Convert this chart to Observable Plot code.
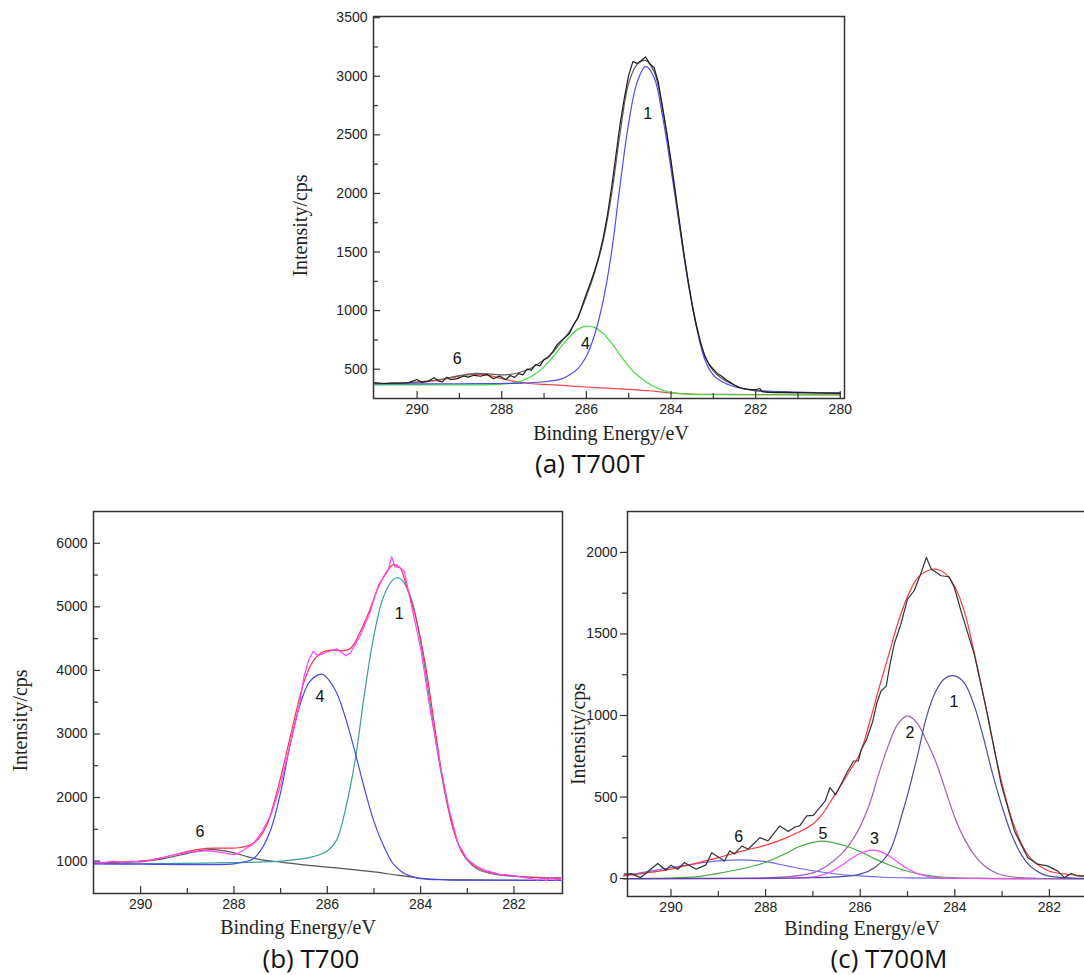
<!DOCTYPE html>
<html><head><meta charset="utf-8">
<script src="https://cdn.jsdelivr.net/npm/d3@7"></script>
<script src="https://cdn.jsdelivr.net/npm/@observablehq/plot@0.6"></script>
<style>
html,body{margin:0;padding:0;background:#fff;overflow:hidden;}
#root{position:relative;width:1084px;height:975px;overflow:hidden;background:#fff;}
.panel{position:absolute;overflow:visible;}
.panel svg{max-width:none !important;}
.title{position:absolute;font-family:"Open Sans";font-size:26px;line-height:1;color:#111;transform:translate(-50%,-50%);white-space:nowrap;}
</style></head><body><div id="root"></div>
<script>
// ---------- Panel (a) T700T ----------
const aRaw = [[291.0,385],[290.8,378],[290.6,382],[290.4,380],[290.2,386],[290.0,412],[289.9,388],[289.75,396],[289.6,428],[289.5,400],[289.4,392],[289.3,432],[289.2,410],[289.05,420],[288.9,442],[288.8,432],[288.65,448],[288.5,440],[288.35,456],[288.2,418],[288.05,442],[287.9,410],[287.8,446],[287.7,430],[287.6,462],[287.5,452],[287.4,500],[287.3,492],[287.2,540],[287.1,528],[287.0,582],[286.9,600],[286.8,645],[286.7,705],[286.6,742],[286.5,772],[286.4,805],[286.3,880],[286.2,935],[286.1,1040],[286.0,1145],[285.9,1240],[285.8,1345],[285.7,1470],[285.6,1625],[285.5,1820],[285.4,2060],[285.3,2330],[285.2,2600],[285.1,2820],[285.0,3010],[284.9,3125],[284.8,3110],[284.7,3135],[284.6,3165],[284.5,3105],[284.4,3075],[284.3,2950],[284.2,2740],[284.1,2520],[284.0,2280],[283.9,2020],[283.8,1760],[283.7,1500],[283.6,1265],[283.5,1050],[283.4,870],[283.3,720],[283.2,612],[283.1,540],[283.0,500],[282.9,462],[282.8,440],[282.7,410],[282.6,388],[282.5,365],[282.4,345],[282.3,335],[282.2,330],[282.1,326],[282.0,325],[281.9,335],[281.85,308],[281.7,302],[281.5,300],[281.3,302],[281.0,300],[280.5,297],[280.0,294]];
const aEnv = [[291.0,378],[290.5,381],[290.0,390],[289.5,410],[289.0,445],[288.6,465],[288.2,456],[287.9,452],[287.6,470],[287.3,510],[287.0,580],[286.8,640],[286.6,730],[286.4,820],[286.2,945],[286.0,1120],[285.8,1330],[285.6,1600],[285.4,2000],[285.2,2520],[285.0,2940],[284.8,3100],[284.6,3135],[284.4,3040],[284.2,2720],[284.0,2260],[283.8,1740],[283.6,1260],[283.4,880],[283.2,615],[283.0,485],[282.8,420],[282.6,380],[282.3,335],[282.0,315],[281.5,305],[281.0,300],[280.0,295]];
const aPeak1 = [[291.0,375],[290.0,375],[289.0,376],[288.0,378],[287.5,382],[287.0,393],[286.6,415],[286.4,450],[286.2,505],[286.0,610],[285.8,800],[285.6,1090],[285.4,1510],[285.2,2080],[285.0,2600],[284.8,2950],[284.6,3085],[284.4,2990],[284.2,2660],[284.0,2210],[283.8,1720],[283.6,1250],[283.4,864],[283.2,580],[283.0,450],[282.8,395],[282.5,350],[282.0,320],[281.0,305],[280.0,298]];
const aPeak4 = [[291.0,366],[290.0,366],[289.0,366],[288.4,367],[288.0,372],[287.8,380],[287.6,392],[287.4,420],[287.2,462],[287.0,520],[286.8,600],[286.6,690],[286.4,775],[286.2,840],[286.0,868],[285.8,855],[285.6,805],[285.4,720],[285.2,620],[285.0,525],[284.8,450],[284.6,395],[284.4,352],[284.2,322],[284.0,300],[283.6,288],[283.0,283],[282.0,282],[280.0,280]];
const aPeak6 = [[291.0,376],[290.5,380],[290.0,388],[289.6,400],[289.2,425],[288.9,447],[288.6,456],[288.3,447],[288.0,420],[287.7,396],[287.4,380],[287.0,370],[286.5,360],[286.0,348],[285.5,338],[285.0,328],[284.5,316],[284.0,298],[283.5,288],[283.0,285],[282.0,283],[280.0,281]];
const aLabels = [{t:"6",E:289.05,v:585},{t:"4",E:286.02,v:716},{t:"1",E:284.55,v:2682}];
const aXMajor = [290,288,286,284,282,280];
const aXMinor = [289,287,285,283,281];
const aYMajor = [500,1000,1500,2000,2500,3000,3500];
const aYMinor = [750,1250,1750,2250,2750,3250];

// ---------- Panel (b) T700 ----------
const bRaw = [[291.0,980],[290.8,970],[290.6,1000],[290.5,990],[290.4,975],[290.2,1000],[290.0,985],[289.8,1010],[289.6,1040],[289.4,1080],[289.2,1110],[289.0,1140],[288.8,1150],[288.6,1165],[288.4,1150],[288.2,1130],[288.0,1100],[287.9,1130],[287.8,1170],[287.6,1260],[287.4,1460],[287.2,1740],[287.0,2200],[286.8,2820],[286.6,3450],[286.5,3900],[286.4,4160],[286.3,4300],[286.2,4230],[286.0,4290],[285.8,4340],[285.6,4230],[285.5,4280],[285.3,4540],[285.1,4880],[284.9,5350],[284.8,5460],[284.7,5560],[284.62,5790],[284.55,5630],[284.45,5620],[284.35,5560],[284.2,5030],[284.0,4350],[283.8,3400],[283.6,2580],[283.4,1850],[283.2,1280],[283.0,1030],[282.8,920],[282.6,850],[282.3,790],[282.0,770],[281.8,745],[281.6,720],[281.5,700],[281.4,730],[281.3,690],[281.2,745],[281.1,700],[281.0,715]];
const bEnv = [[291.0,975],[290.5,985],[290.0,1000],[289.5,1060],[289.0,1150],[288.6,1200],[288.2,1205],[287.9,1210],[287.7,1240],[287.5,1330],[287.3,1560],[287.1,2030],[286.9,2620],[286.7,3250],[286.5,3820],[286.3,4150],[286.1,4290],[285.9,4320],[285.7,4310],[285.5,4350],[285.3,4600],[285.1,4930],[284.9,5320],[284.7,5580],[284.6,5660],[284.45,5620],[284.3,5320],[284.1,4820],[283.9,4100],[283.7,3120],[283.5,2180],[283.3,1500],[283.1,1120],[282.9,950],[282.7,860],[282.4,800],[282.0,765],[281.5,740],[281.0,727]];
const bPeak4 = [[291.0,955],[290.0,950],[289.0,945],[288.5,945],[288.0,955],[287.8,985],[287.6,1030],[287.4,1200],[287.2,1520],[287.0,2080],[286.8,2820],[286.6,3420],[286.4,3800],[286.2,3930],[286.1,3940],[286.0,3880],[285.8,3650],[285.6,3230],[285.4,2700],[285.2,2130],[285.0,1620],[284.8,1250],[284.6,970],[284.4,830],[284.2,760],[284.0,725],[283.5,705],[283.0,700],[282.0,698],[281.0,695]];
const bPeak1 = [[291.0,960],[290.0,962],[289.0,965],[288.0,975],[287.5,985],[287.0,1000],[286.6,1030],[286.3,1070],[286.0,1160],[285.8,1330],[285.6,1850],[285.4,2600],[285.2,3650],[285.0,4550],[284.8,5150],[284.6,5420],[284.5,5460],[284.4,5420],[284.2,5130],[284.0,4450],[283.8,3500],[283.6,2550],[283.4,1800],[283.2,1280],[283.0,1010],[282.8,880],[282.6,820],[282.3,780],[282.0,760],[281.5,745],[281.0,738]];
const bPeak6 = [[291.0,975],[290.5,980],[290.0,995],[289.5,1040],[289.0,1120],[288.7,1165],[288.45,1180],[288.2,1160],[288.0,1130],[287.7,1065],[287.4,1020],[287.0,985],[286.5,940],[286.0,905],[285.5,870],[285.0,830],[284.5,780],[284.0,730],[283.5,710],[283.0,705],[282.0,700],[281.0,695]];
const bLabels = [{t:"6",E:288.73,v:1462},{t:"4",E:286.16,v:3581},{t:"1",E:284.46,v:4893}];
const bXMajor = [290,288,286,284,282];
const bXMinor = [289,287,285,283];
const bYMajor = [1000,2000,3000,4000,5000,6000];
const bYMinor = [1500,2500,3500,4500,5500];

// ---------- Panel (c) T700M ----------
const cRaw = [[290.99,27],[290.85,30],[290.64,6],[290.28,92],[290.11,51],[290.0,82],[289.86,57],[289.72,98],[289.47,57],[289.26,84],[289.14,159],[288.87,108],[288.76,170],[288.66,150],[288.5,200],[288.37,180],[288.12,251],[287.95,231],[287.7,323],[287.52,288],[287.38,316],[287.28,323],[287.13,384],[286.99,388],[286.74,476],[286.64,558],[286.52,513],[286.28,650],[286.14,721],[286.04,722],[285.98,790],[285.87,850],[285.74,960],[285.65,1075],[285.56,1150],[285.45,1180],[285.38,1300],[285.28,1440],[285.14,1560],[285.0,1714],[284.86,1765],[284.71,1877],[284.6,1969],[284.5,1898],[284.29,1857],[284.12,1851],[284.01,1785],[283.87,1642],[283.59,1376],[283.31,1008],[283.02,579],[282.74,292],[282.46,129],[282.25,88],[282.04,78],[281.83,47],[281.68,6],[281.54,31],[281.4,16],[281.2,14],[281.0,12]];
const cEnv = [[291.0,16],[290.5,36],[290.0,58],[289.5,92],[289.0,128],[288.5,168],[288.0,205],[287.6,245],[287.3,285],[287.0,335],[286.8,395],[286.6,485],[286.4,575],[286.2,670],[286.0,770],[285.8,960],[285.6,1170],[285.4,1370],[285.2,1570],[285.0,1730],[284.8,1840],[284.6,1885],[284.4,1898],[284.2,1870],[284.0,1790],[283.8,1640],[283.6,1400],[283.4,1130],[283.2,840],[283.0,580],[282.8,370],[282.6,220],[282.4,125],[282.2,75],[282.0,45],[281.6,25],[281.2,16],[281.0,14]];
const cPeak1 = [[291.0,0],[288.0,2],[287.0,5],[286.5,10],[286.0,27],[285.7,67],[285.4,155],[285.1,410],[284.8,740],[284.6,990],[284.4,1150],[284.2,1230],[284.0,1243],[283.8,1200],[283.6,1070],[283.4,870],[283.2,640],[283.0,440],[282.8,270],[282.6,150],[282.4,75],[282.2,35],[282.0,15],[281.5,3],[281.0,0]];
const cPeak2 = [[291.0,0],[288.0,5],[287.5,12],[287.0,35],[286.8,60],[286.6,100],[286.4,150],[286.2,220],[286.0,320],[285.8,460],[285.6,650],[285.4,820],[285.2,950],[285.0,998],[284.8,955],[284.6,845],[284.4,715],[284.2,545],[284.0,375],[283.8,245],[283.6,150],[283.4,85],[283.2,45],[283.0,22],[282.7,8],[282.3,2],[281.0,0]];
const cPeak3 = [[291.0,0],[287.5,2],[287.0,10],[286.8,22],[286.6,45],[286.4,80],[286.2,120],[286.0,155],[285.8,173],[285.6,168],[285.4,140],[285.2,100],[285.0,60],[284.8,32],[284.6,15],[284.4,6],[284.0,2],[281.0,0]];
const cPeak5 = [[291.0,0],[290.0,3],[289.5,10],[289.0,32],[288.5,60],[288.0,100],[287.6,150],[287.3,195],[287.0,222],[286.8,230],[286.6,222],[286.3,200],[286.0,165],[285.7,122],[285.4,85],[285.0,45],[284.6,20],[284.2,8],[283.5,1],[281.0,0]];
const cPeak6 = [[291.0,18],[290.5,42],[290.0,68],[289.5,90],[289.0,108],[288.5,115],[288.0,104],[287.5,75],[287.0,48],[286.5,28],[286.0,16],[285.5,8],[285.0,4],[284.0,1],[281.0,0]];
const cLabels = [{t:"6",E:288.57,v:256},{t:"5",E:286.79,v:272},{t:"3",E:285.7,v:241},{t:"2",E:284.95,v:892},{t:"1",E:284.02,v:1084}];
const cXMajor = [290,288,286,284,282];
const cXMinor = [289,287,285,283,281];
const cYMajor = [0,500,1000,1500,2000];
const cYMinor = [250,750,1250,1750];

const xTitle = "Binding Energy/eV";
const yTitle = "Intensity/cps";

function makePanel(cfg) {
  const {left, top, width, height, mt, mr, mb, ml, xDomain, yDomain, series, labels,
         xMajor, xMinor, yMajor, yMinor, yOut, yLab, xLab, title} = cfg;
  const fw = width - ml - mr, fh = height - mt - mb;
  const kx = (xDomain[0] - xDomain[1]) / fw;
  const ky = (yDomain[1] - yDomain[0]) / fh;
  const x0 = xDomain[0], y0 = yDomain[0];
  const dir = yOut ? 1 : -1;
  const tk = {stroke: "#333", strokeWidth: 1.2};
  const marks = [];
  for (const s of series) {
    marks.push(Plot.line(s.data, {x: d => d[0], y: d => d[1], stroke: s.color,
      strokeWidth: s.w || 1.2, curve: s.curve || "catmull-rom"}));
  }
  marks.push(Plot.ruleX(xMajor, {x: d => d, y1: y0, y2: y0 + 7 * ky, ...tk}));
  marks.push(Plot.ruleX(xMinor, {x: d => d, y1: y0, y2: y0 + 5 * ky, ...tk}));
  marks.push(Plot.ruleY(yMajor, {y: d => d, x1: x0, x2: x0 + dir * 7 * kx, ...tk}));
  marks.push(Plot.ruleY(yMinor, {y: d => d, x1: x0, x2: x0 + dir * 5 * kx, ...tk}));
  marks.push(Plot.axisX(xMajor, {tickSize: 0, tickPadding: 6, tickFormat: d => String(d), label: null, fill: "#222"}));
  marks.push(Plot.axisY(yMajor, {tickSize: 0, tickPadding: yOut ? 10 : 6, tickFormat: d => String(d), label: null, fill: "#222"}));
  marks.push(Plot.frame({stroke: "#333", strokeWidth: 1.5}));
  marks.push(Plot.text(labels, {x: "E", y: "v", text: "t", fontSize: 16, fill: "#111"}));
  marks.push(Plot.text([xTitle], {text: d => d, frameAnchor: "bottom", textAnchor: "middle", lineAnchor: "middle",
    dx: xLab.dx, dy: xLab.dy, fontFamily: "Liberation Serif", fontSize: 20, fill: "#222"}));
  marks.push(Plot.text([yTitle], {text: d => d, frameAnchor: "left", textAnchor: "middle", lineAnchor: "middle",
    rotate: -90, dx: yLab.dx, dy: yLab.dy, fontFamily: "Liberation Serif", fontSize: 20, fill: "#222"}));
  const svg = Plot.plot({
    width, height, marginTop: mt, marginRight: mr, marginBottom: mb, marginLeft: ml,
    x: {domain: xDomain}, y: {domain: yDomain},
    style: {fontFamily: "Liberation Sans", fontSize: "14px", color: "#222", background: "transparent", overflow: "visible", maxWidth: "none"},
    marks
  });
  svg.style.maxWidth = "none";
  svg.style.width = width + "px";
  svg.style.height = height + "px";
  const div = document.createElement("div");
  div.className = "panel";
  div.style.left = left + "px";
  div.style.top = top + "px";
  div.style.width = width + "px";
  div.style.height = height + "px";
  div.appendChild(svg);
  document.getElementById("root").appendChild(div);
  const t = document.createElement("div");
  t.className = "title";
  t.textContent = title.text;
  t.style.left = title.x + "px";
  t.style.top = title.y + "px";
  document.getElementById("root").appendChild(t);
}

makePanel({
  left: 280, top: 0, width: 600, height: 450, mt: 16, mr: 36, mb: 52, ml: 93,
  xDomain: [291.03, 279.9], yDomain: [250, 3510],
  series: [
    {data: aPeak6, color: "#f04848"},
    {data: aPeak4, color: "#3ede3e"},
    {data: aPeak1, color: "#4d4df2"},
    {data: aEnv, color: "#5e5e5e"},
    {data: aRaw, color: "#1c1c1c", curve: "linear"}
  ],
  labels: aLabels, xMajor: aXMajor, xMinor: aXMinor, yMajor: aYMajor, yMinor: aYMinor, yOut: false,
  yLab: {dx: -73, dy: 18}, xLab: {dx: 2, dy: 35},
  title: {text: "(a) T700T", x: 590, y: 463}
});

makePanel({
  left: 0, top: 500, width: 580, height: 450, mt: 11, mr: 18, mb: 57, ml: 93,
  xDomain: [291.01, 280.96], yDomain: [490, 6500],
  series: [
    {data: bPeak6, color: "#555555"},
    {data: bPeak1, color: "#3c9c9c"},
    {data: bPeak4, color: "#4848e8"},
    {data: bEnv, color: "#ff2d4d"},
    {data: bRaw, color: "#ff44ff", curve: "linear"}
  ],
  labels: bLabels, xMajor: bXMajor, xMinor: bXMinor, yMajor: bYMajor, yMinor: bYMinor, yOut: false,
  yLab: {dx: -73, dy: 18}, xLab: {dx: -30, dy: 34},
  title: {text: "(b) T700", x: 311, y: 958}
});

makePanel({
  left: 560, top: 500, width: 600, height: 450, mt: 11, mr: 60, mb: 54, ml: 67,
  xDomain: [290.92, 280.92], yDomain: [-110, 2251],
  series: [
    {data: cPeak6, color: "#6a6af5"},
    {data: cPeak5, color: "#48a848"},
    {data: cPeak3, color: "#ff48ff"},
    {data: cPeak2, color: "#a25fb5"},
    {data: cPeak1, color: "#4a4aaa"},
    {data: cEnv, color: "#ff3b3b"},
    {data: cRaw, color: "#333333", curve: "linear"}
  ],
  labels: cLabels, xMajor: cXMajor, xMinor: cXMinor, yMajor: cYMajor, yMinor: cYMinor, yOut: true,
  yLab: {dx: -49, dy: 30}, xLab: {dx: -2, dy: 32},
  title: {text: "(c) T700M", x: 889, y: 958}
});
</script></body></html>
